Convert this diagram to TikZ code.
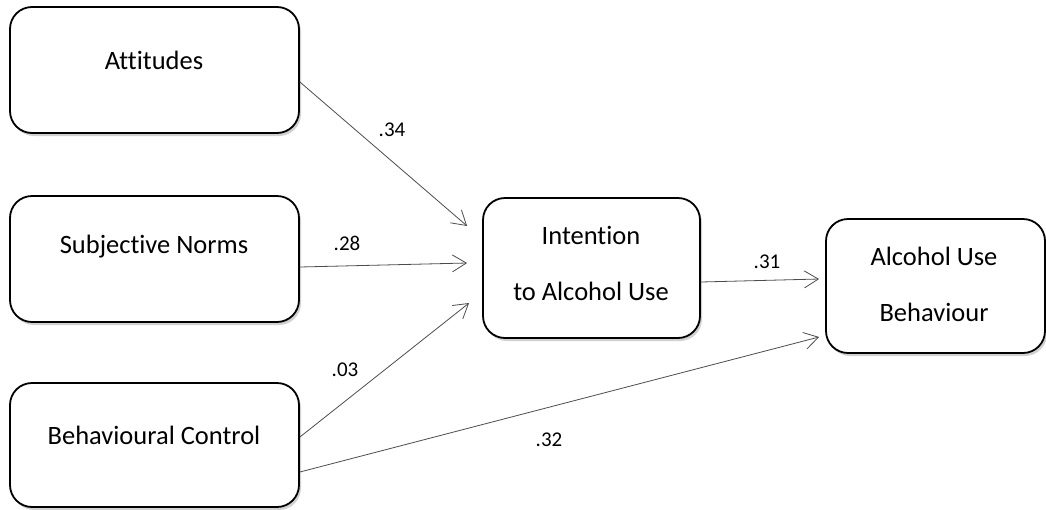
\documentclass[tikz,border=0pt]{standalone}
\usepackage{fontspec}
\setmainfont{Carlito}[Ligatures={NoCommon}]
\usetikzlibrary{arrows.meta,shadows}
\begin{document}
\begin{tikzpicture}[x=1pt,y=-1pt,
  box/.style={draw=black,line width=1.8pt,rounded corners=22pt,fill=white,inner sep=0pt,
    drop shadow={shadow xshift=2pt,shadow yshift=-3pt,opacity=0.18,fill=black}},
  txt/.style={font=\fontsize{26.5}{56}\selectfont,align=center,inner sep=0pt},
  lbl/.style={font=\fontsize{21}{24}\selectfont,inner sep=0pt},
  conn/.style={draw=black!70,line width=0.8pt,-{Straight Barb[length=14pt,width=17pt,line width=0.8pt]}}]
\useasboundingbox (0,0) rectangle (1046,509);
% boxes
\node[box,minimum width=289pt,minimum height=126pt] (att) at (154.5,70) {};
\node[box,minimum width=289pt,minimum height=126pt] (sub) at (154.5,259) {};
\node[box,minimum width=289pt,minimum height=124pt] (bc) at (154.5,445) {};
\node[box,minimum width=217pt,minimum height=140pt] (int) at (591.5,268) {};
\node[box,minimum width=219pt,minimum height=134pt] (alc) at (935.5,286) {};
% texts
\node[txt] (attT) at (154,60) {Attitudes};
\node[txt] (subT) at (154,247) {Subjective Norms};
\node[txt] (bcT) at (154,435) {Behavioural Control};
\node[txt] (intT) at (591,263) {Intention\\to Alcohol Use};
\node[txt] (alcT) at (934,284) {Alcohol Use\\Behaviour};
% connectors
\draw[conn] ([yshift=-12pt]att.east) -- ([xshift=-15pt,yshift=42pt]int.west);
\draw[conn] ([yshift=-8pt]sub.east) -- ([xshift=-15pt,yshift=5pt]int.west);
\draw[conn] ([yshift=8pt]bc.east) -- ([xshift=-13pt,yshift=-35pt]int.west);
\draw[conn] ([yshift=-27pt]bc.east) -- ([xshift=-6pt,yshift=-51pt]alc.west);
\draw[conn] ([yshift=-14pt]int.east) -- ([xshift=-6pt,yshift=7pt]alc.west);
% labels
\node[lbl] (l1) at (392,130) {.34};
\node[lbl] (l2) at (347,243) {.28};
\node[lbl] (l3) at (345,370) {.03};
\node[lbl] (l4) at (767,262) {.31};
\node[lbl] (l5) at (549,440) {.32};
\end{tikzpicture}
\end{document}
